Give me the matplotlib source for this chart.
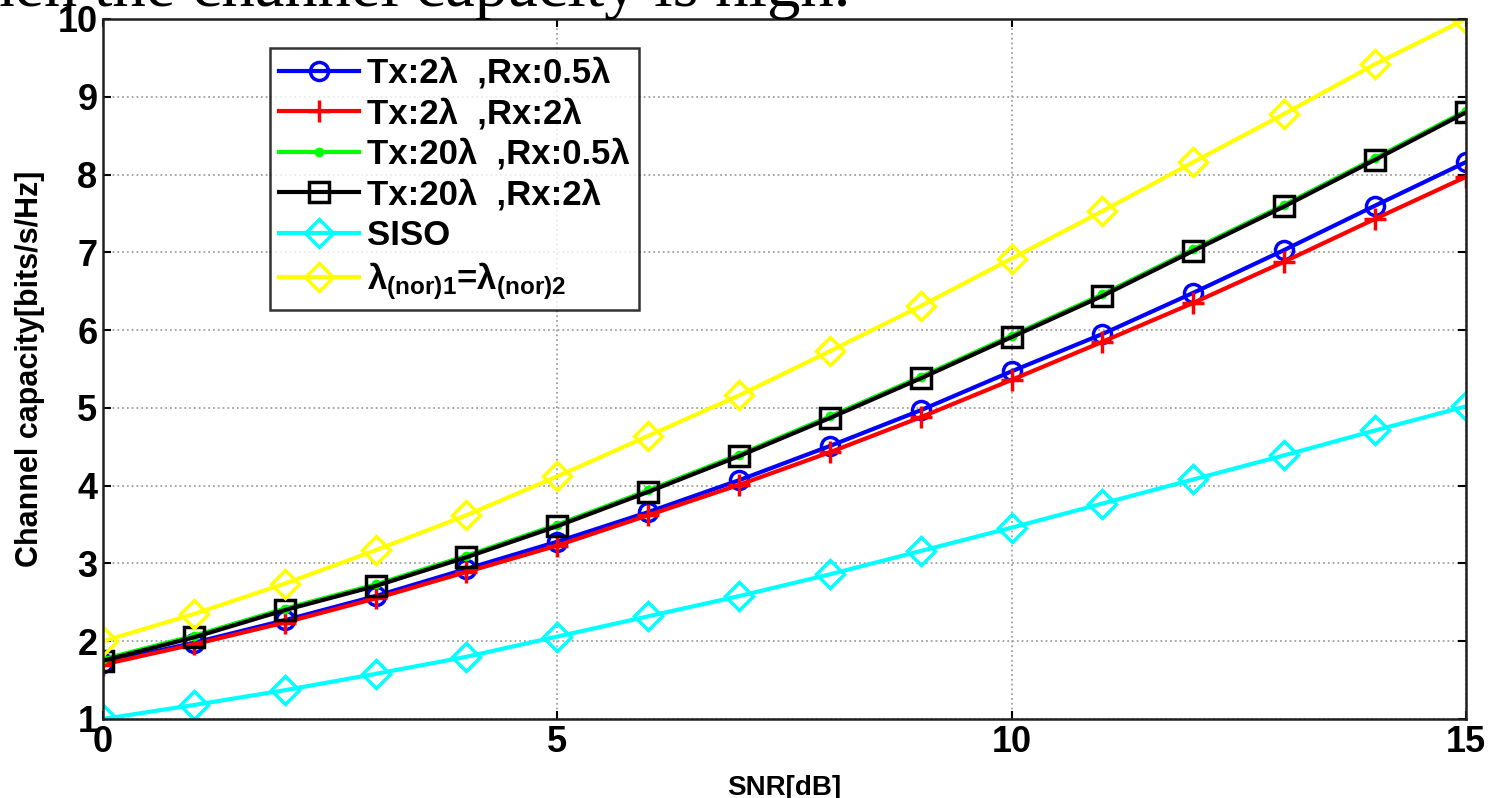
import numpy as np
import matplotlib
matplotlib.use("Agg")
import matplotlib.pyplot as plt

# SNR in dB
snr = np.arange(0, 16)

# channel capacity values
cap_tx2_rx05 = [1.72, 1.98, 2.27, 2.58, 2.93, 3.28, 3.66, 4.07, 4.51, 4.97, 5.47, 5.95, 6.48, 7.03, 7.60, 8.16]
cap_tx2_rx2 = [1.70, 1.96, 2.24, 2.55, 2.89, 3.23, 3.62, 4.01, 4.43, 4.88, 5.36, 5.85, 6.35, 6.88, 7.43, 7.97]
cap_tx20_rx05 = [1.77, 2.07, 2.42, 2.73, 3.10, 3.50, 3.94, 4.40, 4.89, 5.40, 5.93, 6.46, 7.04, 7.61, 8.21, 8.82]
cap_tx20_rx2 = [1.75, 2.05, 2.40, 2.71, 3.08, 3.48, 3.92, 4.38, 4.87, 5.38, 5.91, 6.44, 7.02, 7.59, 8.19, 8.80]
cap_siso = [1.00, 1.18, 1.37, 1.58, 1.80, 2.06, 2.32, 2.58, 2.86, 3.16, 3.46, 3.77, 4.08, 4.39, 4.71, 5.02]
cap_equal = [2.00, 2.35, 2.74, 3.17, 3.62, 4.12, 4.64, 5.16, 5.73, 6.31, 6.92, 7.53, 8.16, 8.78, 9.42, 10.0]

labels = ['Tx:2λ  ,Rx:0.5λ', 'Tx:2λ  ,Rx:2λ', 'Tx:20λ  ,Rx:0.5λ', 'Tx:20λ  ,Rx:2λ',
          'SISO', r'$\lambda_{(nor)1}$=$\lambda_{(nor)2}$']

plt.rcParams['font.family'] = ['Liberation Sans', 'DejaVu Sans']
plt.rcParams['font.weight'] = 'bold'
plt.rcParams['mathtext.default'] = 'regular'

fig = plt.figure(figsize=(14.89, 7.98), dpi=100)
ax = fig.add_axes([0.0692, 0.0990, 0.9153, 0.8772])

lw = 3.0
ax.plot(snr, cap_tx2_rx05, color='#0000ff', lw=lw, marker='o', ms=13, mfc='none', mew=2.5, label=labels[0])
ax.plot(snr, cap_tx2_rx2, color='#ff0000', lw=lw, marker='+', ms=16, mew=2.5, label=labels[1])
ax.plot(snr, cap_tx20_rx05, color='#00ff00', lw=lw, marker='.', ms=12, label=labels[2])
ax.plot(snr, cap_tx20_rx2, color='black', lw=lw, marker='s', ms=15, mfc='none', mew=2.5, label=labels[3])
ax.plot(snr, cap_siso, color='#00ffff', lw=lw, marker='D', ms=14, mfc='none', mew=2.5, label=labels[4])
ax.plot(snr, cap_equal, color='#ffff00', lw=lw, marker='D', ms=14, mfc='none', mew=2.5, label=labels[5])

ax.set_xlim(0, 15)
ax.set_ylim(1, 10)
ax.set_xticks([0, 5, 10, 15])
ax.set_yticks(range(1, 11))
ax.tick_params(direction='in', labelsize=26, length=6, width=1.5, top=True, right=True, pad=4)
for lab in ax.get_xticklabels() + ax.get_yticklabels():
    lab.set_fontweight('bold')
ax.grid(True, color='#a0a0a0', linestyle=':', linewidth=1.3)
for sp in ax.spines.values():
    sp.set_linewidth(1.8)
    sp.set_color('#202020')

ax.set_xlabel('SNR[dB]', fontsize=20, fontweight='bold', labelpad=11)
ax.set_ylabel('Channel capacity[bits/s/Hz]', fontsize=22, fontweight='bold', labelpad=9)

leg = ax.legend(loc='upper left', bbox_to_anchor=(0.1225, 0.9586), fontsize=25,
                frameon=True, fancybox=False, edgecolor='black', borderpad=0.25,
                labelspacing=0.22, handlelength=2.3, handletextpad=0.25, borderaxespad=0)
leg.get_frame().set_linewidth(1.8)

# cropped document text above the figure
fig.text(-0.045, 1.013, 'when the channel capacity is high.', family='Liberation Serif',
         fontweight='normal', fontsize=48, va='center', ha='left')

fig.savefig('out.png', dpi=100)
